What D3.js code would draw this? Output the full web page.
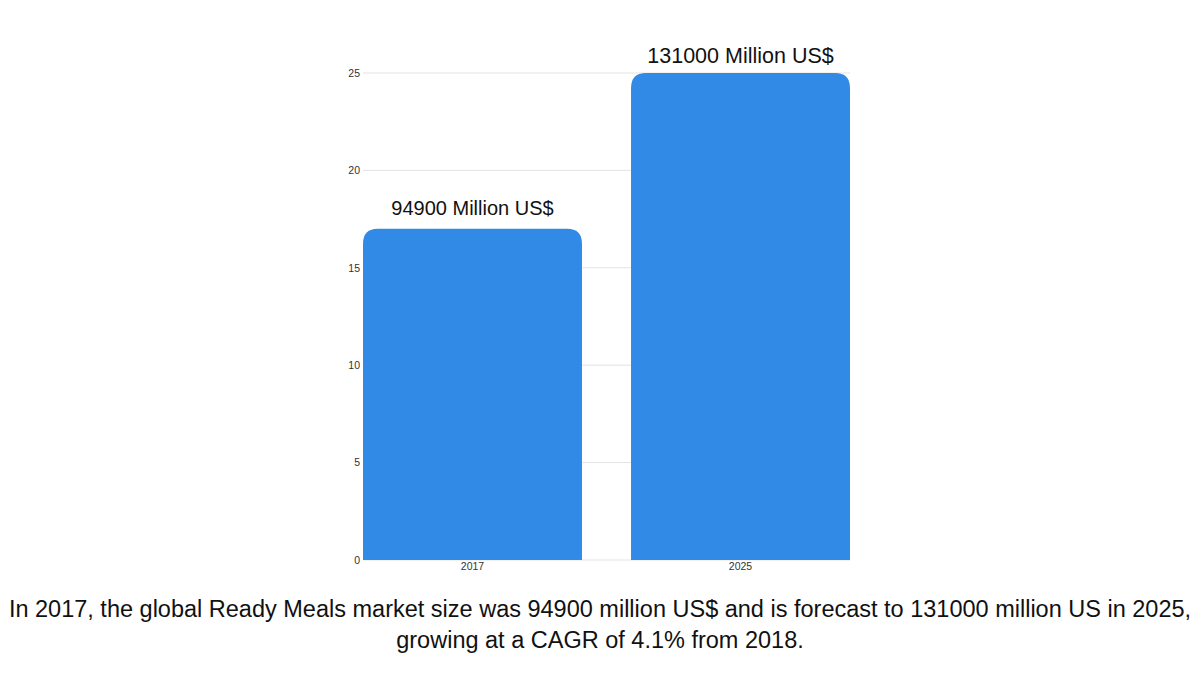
<!DOCTYPE html>
<html><head><meta charset="utf-8">
<script src="https://cdn.jsdelivr.net/npm/d3@7"></script>
<style>body{margin:0;background:#fff;}svg{display:block;font-family:"Liberation Sans",Arial,sans-serif;}</style>
</head><body>
<svg id="c" width="1200" height="675"></svg>
<script>
const categories = ["2017", "2025"];
const values = [17, 25];
const barLabels = ["94900 Million US$", "131000 Million US$"];
const yTicks = [0, 5, 10, 15, 20, 25];
const captionLines = [
  "In 2017, the global Ready Meals market size was 94900 million US$ and is forecast to 131000 million US in 2025,",
  "growing at a CAGR of 4.1% from 2018."
];

(function () {
const svg = d3.select("#c");
const pLeft = 363, pRight = 850, pTop = 73, pBottom = 560;
const x = d3.scaleBand().domain(categories).range([pLeft, pRight]).paddingInner(0.183).paddingOuter(0);
const y = d3.scaleLinear().domain([0, 25]).range([pBottom, pTop]);

// gridlines
svg.append("g").selectAll("line").data(yTicks).join("line")
  .attr("x1", pLeft).attr("x2", pRight)
  .attr("y1", d => y(d)).attr("y2", d => y(d))
  .attr("stroke", "#e3e3e3").attr("stroke-width", 1);

// y axis labels
const yAxis = d3.axisLeft(y).tickValues(yTicks).tickSize(0).tickPadding(0);
const gy = svg.append("g").attr("transform", `translate(${pLeft - 3},0)`).call(yAxis);
gy.select(".domain").remove();
gy.selectAll("text").attr("font-size", 10.5).attr("fill", "#333").attr("font-family", "Liberation Sans, Arial, sans-serif");

// bars with rounded tops
const r = 15;
function barPath(d, i) {
  const x0 = x(categories[i]), w = x.bandwidth(), y0 = y(d), y1 = y(0);
  return `M${x0},${y1}L${x0},${y0 + r}Q${x0},${y0} ${x0 + r},${y0}L${x0 + w - r},${y0}Q${x0 + w},${y0} ${x0 + w},${y0 + r}L${x0 + w},${y1}Z`;
}
svg.append("g").selectAll("path").data(values).join("path")
  .attr("d", barPath).attr("fill", "#318ae5");

// x axis labels
const xAxis = d3.axisBottom(x).tickSize(0).tickPadding(3);
const gx = svg.append("g").attr("transform", `translate(0,${pBottom})`).call(xAxis);
gx.select(".domain").remove();
gx.selectAll("text").attr("font-size", 10.5).attr("fill", "#333").attr("font-family", "Liberation Sans, Arial, sans-serif");

// value labels
svg.append("g").selectAll("text").data(values).join("text")
  .attr("x", (d, i) => x(categories[i]) + x.bandwidth() / 2)
  .attr("y", (d, i) => y(d) - (i === 0 ? 14 : 10))
  .attr("text-anchor", "middle").attr("font-size", (d, i) => i === 0 ? 20 : 21.5).attr("fill", "#111")
  .text((d, i) => barLabels[i]);

// caption
svg.append("g").selectAll("text").data(captionLines).join("text")
  .attr("x", 600).attr("y", (d, i) => 617 + i * 31)
  .attr("text-anchor", "middle").attr("font-size", 23.5).attr("fill", "#111")
  .text(d => d);
})();
</script>
</body></html>
